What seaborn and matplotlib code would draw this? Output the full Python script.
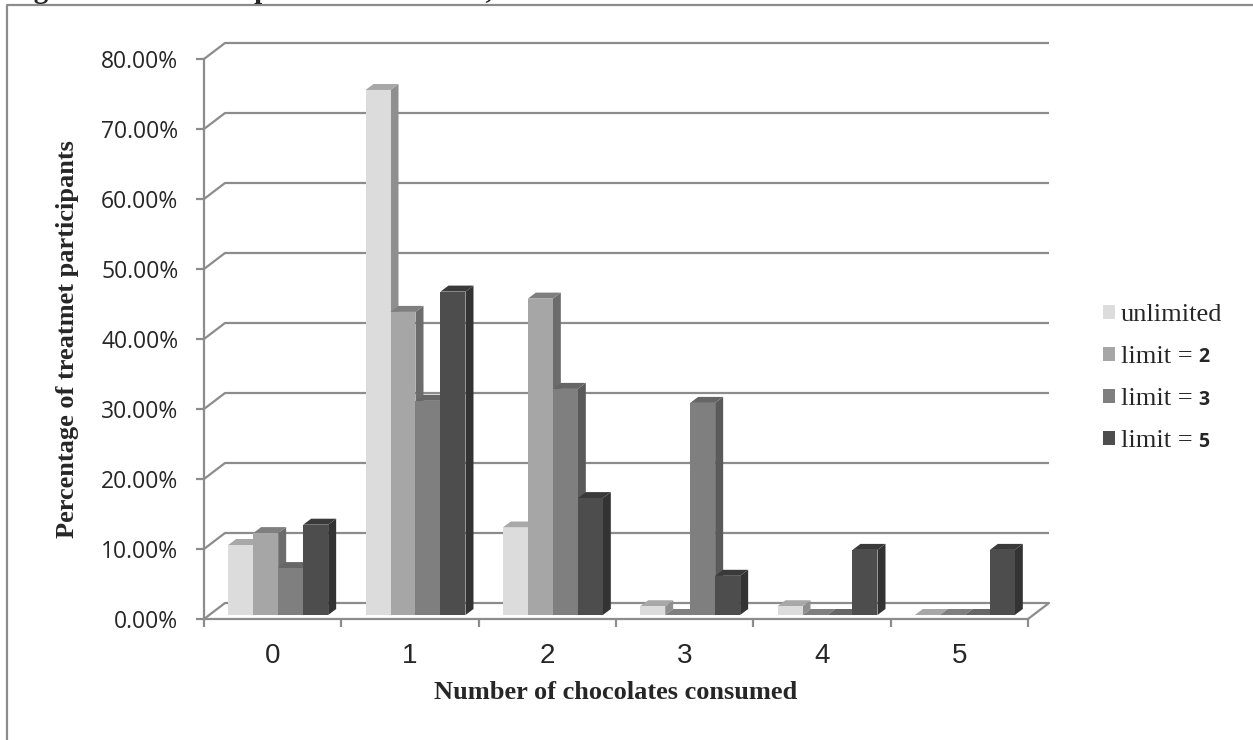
import pandas as pd
import numpy as np
import matplotlib.pyplot as plt
import seaborn as sns
from matplotlib.lines import Line2D
from matplotlib.patches import Polygon
from matplotlib.transforms import Affine2D

# Values (percent of participants)
chocolates = ['0', '1', '2', '3', '4', '5']
series_names = ['unlimited', 'limit = 2', 'limit = 3', 'limit = 5']
unlimited = [10.0, 75.0, 12.5, 1.25, 1.25, 0.0]
limit_2 = [11.7, 43.3, 45.2, 0.0, 0.0, 0.0]
limit_3 = [6.7, 30.6, 32.3, 30.3, 0.0, 0.0]
limit_5 = [12.9, 46.2, 16.7, 5.6, 9.3, 9.3]
y_ticks = [0, 10, 20, 30, 40, 50, 60, 70, 80]

front_colors = ['#dcdcdc', '#a6a6a6', '#7f7f7f', '#4d4d4d']
side_colors = ['#8f8f8f', '#6c6c6c', '#5a5a5a', '#333333']
top_colors = ['#a8a8a8', '#7f7f7f', '#666666', '#3a3a3a']
line_color = '#8c8c8c'

data = pd.DataFrame({
    'chocolates': chocolates * 4,
    'series': np.repeat(series_names, 6),
    'percent': unlimited + limit_2 + limit_3 + limit_5,
})

sns.set_style('white')
plt.rcParams['font.family'] = ['Liberation Sans', 'DejaVu Sans']

W, H = 1253, 740
fig = plt.figure(figsize=(W / 100, H / 100), dpi=100)
ax = fig.add_axes([204 / W, (H - 619) / H, 824 / W, 560 / H])

sns.barplot(data=data, x='chocolates', y='percent', hue='series', palette=front_colors,
            width=0.728, saturation=1, edgecolor='none', linewidth=0, ax=ax)
ax.set_ylim(0, 80)
ax.set_xlim(-0.5, 5.5)

# Pixel offsets for the fake 3D look
wall_dx, wall_dy = 21, 16
bar_dx, bar_dy = 5.5, 4
depth_dx, depth_dy = 8, 6

# Back wall gridlines and the diagonals joining them to the axis
wall = ax.transData + Affine2D().translate(wall_dx, wall_dy)
ax.hlines(y_ticks, -0.5, 5.5, colors=line_color, linewidth=1.6, transform=wall, zorder=1, clip_on=False)
for tick in y_ticks:
    x0, y0 = ax.transData.transform((-0.5, tick))
    fig.add_artist(Line2D([x0, x0 + wall_dx], [y0, y0 + wall_dy], color=line_color, linewidth=1.6,
                          transform=None, zorder=1))
x0, y0 = ax.transData.transform((5.5, 0))
fig.add_artist(Line2D([x0, x0 + wall_dx], [y0, y0 + wall_dy], color=line_color, linewidth=1.6,
                      transform=None, zorder=1))

# Shift the bars onto the floor and add side and top faces, left to right
shift = ax.transData + Affine2D().translate(bar_dx, bar_dy)
order = 3
for j in range(len(chocolates)):
    for i, container in enumerate(ax.containers):
        bar = container[j]
        bx, bw, bh = bar.get_x(), bar.get_width(), bar.get_height()
        (lx, by), (rx, ty) = shift.transform([(bx, 0), (bx + bw, bh)])
        if bh > 0:
            ax.add_patch(Polygon([(rx, by), (rx + depth_dx, by + depth_dy), (rx + depth_dx, ty + depth_dy), (rx, ty)],
                                 facecolor=side_colors[i], edgecolor='none', transform=None,
                                 zorder=order, clip_on=False))
        ax.add_patch(Polygon([(lx, ty), (lx + depth_dx, ty + depth_dy), (rx + depth_dx, ty + depth_dy), (rx, ty)],
                             facecolor=top_colors[i], edgecolor='none', transform=None,
                             zorder=order + 1, clip_on=False))
        bar.set_transform(shift)
        bar.set_zorder(order + 2)
        bar.set_clip_on(False)
        order += 3

# Axes
sns.despine(ax=ax)
for side in ['left', 'bottom']:
    ax.spines[side].set_color(line_color)
    ax.spines[side].set_linewidth(1.6)
ax.set_yticks(y_ticks)
ax.set_yticklabels([f'{t:.2f}%' for t in y_ticks], family=['Open Sans', 'DejaVu Sans'])
ax.set_xticks(np.arange(-0.5, 6), minor=True)
ax.tick_params(axis='x', which='major', length=0, labelsize=20, pad=17)
ax.tick_params(axis='x', which='minor', bottom=True, length=5.5, width=1.6, color=line_color)
ax.tick_params(axis='y', left=True, length=5.5, width=1.6, color=line_color, labelsize=16.5, pad=13)

serif = ['Liberation Serif', 'DejaVu Serif']
ax.set_xlabel('Number of chocolates consumed', fontsize=19, fontweight='bold', family=serif, labelpad=9)
ax.set_ylabel('Percentage of treatmet participants', fontsize=19, fontweight='bold', family=serif, labelpad=16)

handles, labels = ax.get_legend_handles_labels()
leg = ax.legend(handles, labels, loc='upper left', bbox_to_anchor=(1103 / W, (H - 304) / H),
                bbox_transform=fig.transFigure, frameon=False, prop={'family': serif, 'size': 19},
                handlelength=0.45, handleheight=0.45, handletextpad=0.23, labelspacing=0.76,
                borderpad=0, borderaxespad=0)

# The limit digits are set in a smaller sans face in the original legend
for label in leg.get_texts():
    name = label.get_text()
    if '=' in name:
        head, digit = name.split('= ')
        label.set_text(head + '=')
        ax.annotate(digit, xy=(1, 0), xycoords=label, xytext=(4, 4), textcoords='offset points',
                    fontsize=14, fontweight='bold', family=['Open Sans', 'DejaVu Sans'], va='baseline',
                    zorder=1000)

# Outer frame of the pasted chart and the cut off caption above it
fig.add_artist(Line2D([7 / W, 7 / W, 1], [0, (H - 5) / H, (H - 5) / H], color=line_color, linewidth=1.6))
fig.text(8 / W, (H + 2) / H, 'Figure 2:    Consumption of chocolates,', fontsize=21, fontweight='bold',
         family=serif, va='baseline')

fig.savefig('out.png', dpi=100)
